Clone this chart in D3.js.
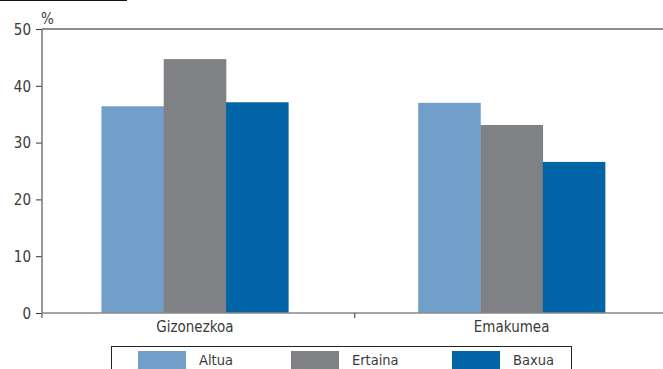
<!DOCTYPE html>
<html>
<head>
<meta charset="utf-8">
<script src="https://cdn.jsdelivr.net/npm/d3@7"></script>
<style>
  html, body { margin: 0; padding: 0; background: #fff; }
  svg { display: block; }
  text { font-family: "Liberation Sans Narrow", "DejaVu Sans Condensed", "Roboto", sans-serif; fill: #3a3a3a; }
</style>
</head>
<body>
<svg id="chart" width="663" height="369"></svg>
<script>
// Categories, series and values
const categories = ["Gizonezkoa", "Emakumea"];
const seriesNames = ["Altua", "Ertaina", "Baxua"];
const altua   = [36.4, 37.0];
const ertaina = [44.7, 33.1];
const baxua   = [37.1, 26.6];
const yTicks  = [0, 10, 20, 30, 40, 50];
const colors  = ["#729fca", "#808185", "#0064a7"];

const values = [altua, ertaina, baxua];
const rows = categories.map((c, i) => ({
  category: c,
  items: seriesNames.map((s, j) => ({ series: s, value: values[j][i] }))
}));

const svg = d3.select("#chart");
const plotLeft = 42, plotTop = 29, plotBottom = 313;
const bandStart = 36.5, bandEnd = 670;

const x0 = d3.scaleBand().domain(categories).range([bandStart, bandEnd]).paddingInner(0).paddingOuter(0);
const groupW = x0.bandwidth() * 0.59;
const x1 = d3.scaleBand().domain(seriesNames).range([0, groupW]).padding(0);
const y = d3.scaleLinear().domain([0, 50]).range([plotBottom, plotTop]);

// short rule at the top left
svg.append("line").attr("x1", 0).attr("x2", 127).attr("y1", 0.5).attr("y2", 0.5)
  .attr("stroke", "#111").attr("stroke-width", 1.2);

// bars
const g = svg.append("g");
g.selectAll("g.grp").data(rows).join("g")
  .attr("class", "grp")
  .attr("transform", d => `translate(${x0(d.category) + (x0.bandwidth() - groupW) / 2},0)`)
  .selectAll("rect").data(d => d.items).join("rect")
  .attr("x", d => x1(d.series))
  .attr("width", x1.bandwidth() + 0.3)
  .attr("y", d => y(d.value))
  .attr("height", d => y(0) - y(d.value))
  .attr("fill", (d, i) => colors[i]);

// top rule at 50
svg.append("line").attr("x1", plotLeft).attr("x2", 663).attr("y1", y(50)).attr("y2", y(50))
  .attr("stroke", "#1a1a1a").attr("stroke-width", 1);

// y axis
const yAxis = svg.append("g").attr("transform", `translate(${plotLeft},0)`)
  .call(d3.axisLeft(y).tickValues(yTicks).tickSize(6).tickPadding(5));
yAxis.select(".domain").remove();
yAxis.selectAll(".tick line").attr("stroke", "#333");
yAxis.selectAll(".tick text").style("font-size", "15px").attr("dy", "0.35em").attr("fill", "#3a3a3a");
svg.append("line").attr("x1", plotLeft).attr("x2", plotLeft).attr("y1", y(50)).attr("y2", plotBottom + 5)
  .attr("stroke", "#777").attr("stroke-width", 1.5);

// x axis
svg.append("line").attr("x1", plotLeft).attr("x2", 663).attr("y1", plotBottom).attr("y2", plotBottom)
  .attr("stroke", "#888").attr("stroke-width", 1.5);
const xAxis = svg.append("g").attr("transform", `translate(0,${plotBottom})`)
  .call(d3.axisBottom(x0).tickSize(0).tickPadding(8));
xAxis.select(".domain").remove();
xAxis.selectAll(".tick text").style("font-size", "15px").attr("fill", "#3a3a3a");
svg.append("line").attr("x1", x0(categories[1]) + 1.5).attr("x2", x0(categories[1]) + 1.5)
  .attr("y1", plotBottom).attr("y2", plotBottom + 5).attr("stroke", "#333").attr("stroke-width", 1);

// % unit
svg.append("text").attr("x", 41).attr("y", 24).style("font-size", "15px").text("%");

// legend
const lg = svg.append("g");
lg.append("rect").attr("x", 111.5).attr("y", 346.5).attr("width", 460).attr("height", 40)
  .attr("fill", "none").attr("stroke", "#222").attr("stroke-width", 1);
const legendX = [138, 291, 452];
seriesNames.forEach((s, i) => {
  lg.append("rect").attr("x", legendX[i]).attr("y", 351).attr("width", 48).attr("height", 20)
    .attr("fill", colors[i]);
  lg.append("text").attr("x", legendX[i] + 61).attr("y", 365).style("font-size", "14.5px").text(s);
});
</script>
</body>
</html>
